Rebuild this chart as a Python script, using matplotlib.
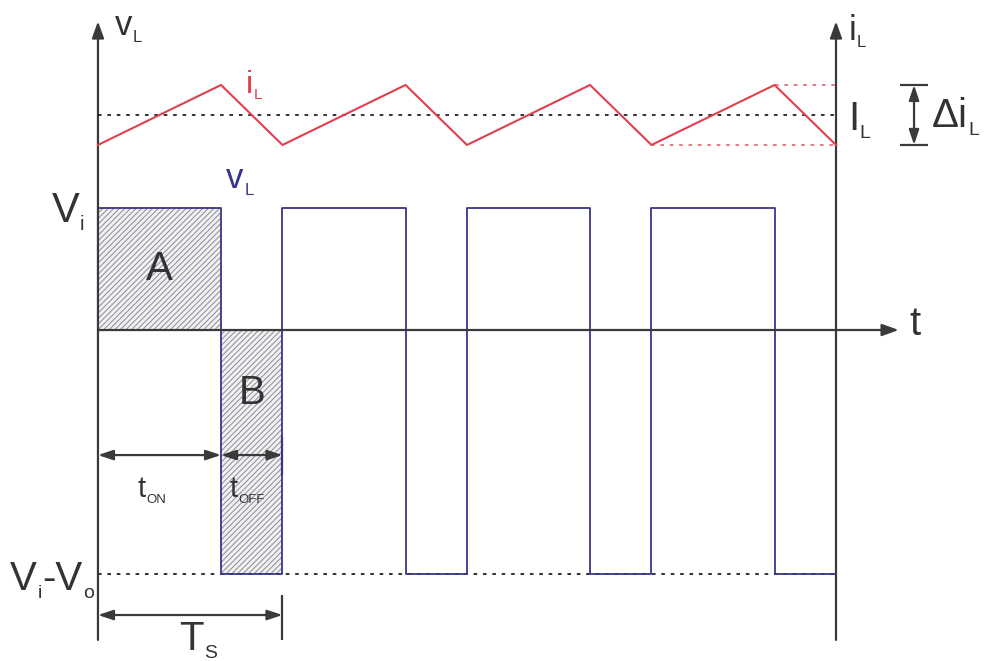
import matplotlib
matplotlib.use("Agg")
import matplotlib.pyplot as plt

plt.rcParams['font.family'] = ['Liberation Sans', 'DejaVu Sans']
plt.rcParams['hatch.linewidth'] = 0.7

# switching instants over four periods (time in units of Ts)
t_switch = [0.0, 0.667, 1.0, 1.667, 2.0, 2.667, 3.0, 3.667, 4.0]

# inductor voltage levels
V_i = 1.0
V_i_minus_V_o = -2.0
v_levels = [V_i, V_i_minus_V_o, V_i, V_i_minus_V_o,
            V_i, V_i_minus_V_o, V_i, V_i_minus_V_o, V_i_minus_V_o]

# inductor current: vertices of the triangle wave
i_L_t = [0.0, 0.667, 1.0, 1.667, 2.0, 2.667, 3.0, 3.667, 4.0]
i_L_vals = [0.75, 1.25, 0.75, 1.25, 0.75, 1.25, 0.75, 1.25, 0.75]
I_L = 1.0
i_peak = 1.25
i_valley = 0.75

AX_C = '#3a3a3a'
BLUE = '#36368a'
RED = '#e0404e'
TXT = '#333333'

fig = plt.figure(figsize=(9.86, 6.61), dpi=100)
ax = fig.add_axes([0, 0, 1, 1])
ax.set_xlim(-0.531, 4.813)
ax.set_ylim(-2.713, 2.705)
ax.axis('off')

ax_i = ax.twinx()
ax_i.set_ylim(-3.55, 1.958)
ax_i.axis('off')


def rich_label(axis, x, y, pieces, size, color, sub_scale=0.48):
    """Text made of normal and subscript pieces, baseline at (x, y)."""
    main = axis.text(x, y, pieces[0][0], fontsize=size, color=color,
                     ha='left', va='baseline')
    prev = main
    for text, is_sub in pieces[1:]:
        fs = size * sub_scale if is_sub else size
        dy = -size * 0.2 if is_sub else 0
        prev = axis.annotate(text, xy=(1, y), xycoords=(prev, 'data'),
                             xytext=(0.5, dy), textcoords='offset points',
                             fontsize=fs, color=color, ha='left', va='baseline')
    return main


def arrow(axis, x0, y0, x1, y1, style, lw=1.6, color=AX_C, hl=0.5, hw=0.18):
    axis.annotate('', xy=(x1, y1), xytext=(x0, y0),
                  arrowprops=dict(arrowstyle=f'{style},head_length={hl},head_width={hw}',
                                  color=color, lw=lw, shrinkA=0, shrinkB=0,
                                  mutation_scale=20))


# hatched areas A and B
ax.fill_between([t_switch[0], t_switch[1]], 0, V_i, facecolor='#f1f1f4',
                edgecolor='#8a8a92', hatch='//////', linewidth=0, zorder=1)
ax.fill_between([t_switch[1], t_switch[2]], V_i_minus_V_o, 0, facecolor='#f1f1f4',
                edgecolor='#8a8a92', hatch='//////', linewidth=0, zorder=1)

# dotted reference levels
ax.plot([t_switch[0], t_switch[-1]], [V_i_minus_V_o, V_i_minus_V_o],
        color='#222222', lw=1.3, ls=(0, (2, 3.2)), zorder=2)
ax_i.plot([t_switch[0], t_switch[-1]], [I_L, I_L],
          color='#222222', lw=1.3, ls=(0, (2, 3.2)), zorder=2)
ax_i.plot([i_L_t[-2], i_L_t[-1]], [i_peak, i_peak],
          color='#e6707a', lw=1.3, ls=(0, (2, 3.2)), zorder=2)
ax_i.plot([i_L_t[-3], i_L_t[-1]], [i_valley, i_valley],
          color='#e6707a', lw=1.3, ls=(0, (2, 3.2)), zorder=2)

# inductor voltage
ax.step(t_switch, v_levels, where='post', color=BLUE, lw=1.3, zorder=3)

# inductor current
ax_i.plot(i_L_t, i_L_vals, color=RED, lw=1.5, zorder=3)

# axes with arrows
arrow(ax, 0, -2.54, 0, 2.53, '-|>')
arrow(ax, 4.0, -2.54, 4.0, 2.53, '-|>')
arrow(ax, 0, 0, 4.34, 0, '-|>')

# time intervals
ax.vlines(t_switch[2], -1.19, -0.877, color=AX_C, lw=1.6)
ax.vlines(t_switch[2], -2.54, -2.17, color=AX_C, lw=1.6)
arrow(ax, t_switch[0], -1.025, t_switch[1], -1.025, '<|-|>', hl=0.45, hw=0.15)
arrow(ax, t_switch[1], -1.025, t_switch[2], -1.025, '<|-|>', hl=0.45, hw=0.15)
arrow(ax, t_switch[0], -2.336, t_switch[2], -2.336, '<|-|>', hl=0.45, hw=0.15)

# ripple marker
ax_i.hlines([i_peak, i_valley], 4.347, 4.499, color=AX_C, lw=1.6)
arrow(ax_i, 4.423, i_valley, 4.423, i_peak, '<|-|>', lw=1.6, hl=0.45, hw=0.15)

# labels
rich_label(ax, 0.09, 2.418, [('v', False), ('L', True)], 25, TXT)
rich_label(ax, 0.80, 1.943, [('i', False), ('L', True)], 23, RED)
rich_label(ax, 0.695, 1.164, [('v', False), ('L', True)], 25, BLUE)
rich_label(ax, -0.252, 0.885, [('V', False), ('i', True)], 30, TXT)
rich_label(ax, -0.478, -2.131, [('V', False), ('i', True), ('-V', False), ('o', True)],
           29, TXT)
rich_label(ax, 0.215, -1.369, [('t', False), ('ON', True)], 21, TXT, sub_scale=0.45)
rich_label(ax, 0.715, -1.369, [('t', False), ('OFF', True)], 21, TXT, sub_scale=0.45)
rich_label(ax, 0.44, -2.623, [('T', False), ('S', True)], 29, TXT)
rich_label(ax, 4.068, 2.377, [('i', False), ('L', True)], 25, TXT)
rich_label(ax, 4.065, 1.64, [('I', False), ('L', True)], 29, TXT)
rich_label(ax, 4.52, 1.664, [('Δi', False), ('L', True)], 29, TXT)
ax.text(4.40, -0.041, 't', fontsize=29, color=TXT, ha='left', va='baseline')
ax.text((t_switch[0] + t_switch[1]) / 2, 0.5, 'A', fontsize=29, color=TXT,
        ha='center', va='center')
ax.text((t_switch[1] + t_switch[2]) / 2, -0.52, 'B', fontsize=29, color=TXT,
        ha='center', va='center')

fig.savefig('out.png', dpi=100, facecolor='white')
